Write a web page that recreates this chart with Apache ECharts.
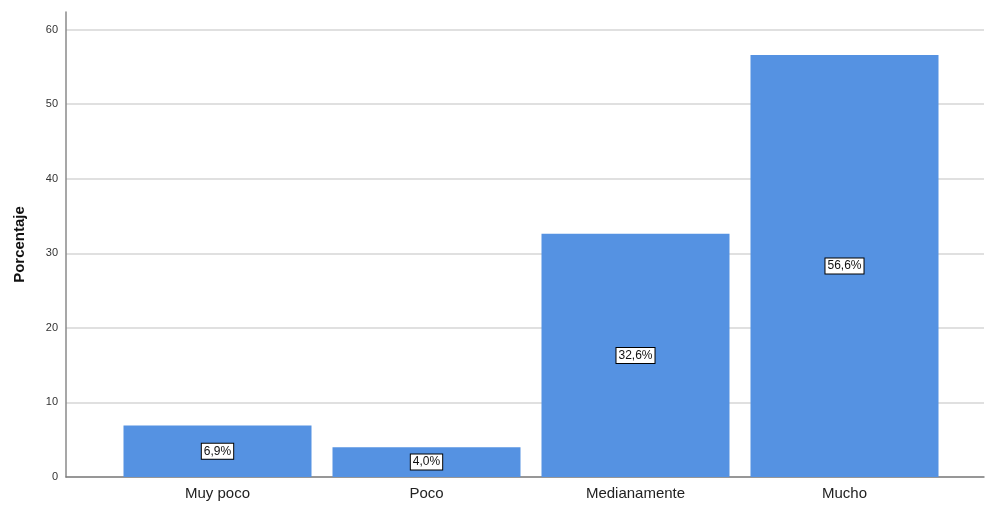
<!DOCTYPE html>
<html>
<head>
<meta charset="utf-8">
<script src="https://cdn.jsdelivr.net/npm/echarts@6/dist/echarts.min.js"></script>
<style>html,body{margin:0;padding:0;background:#fff;}#c{width:985px;height:506px;}</style>
</head>
<body>
<div id="c"></div>
<script>
var categories = ['Muy poco', 'Poco', 'Medianamente', 'Mucho'];
var values = [6.9, 4.0, 32.6, 56.6];
var valueLabels = ['6,9%', '4,0%', '32,6%', '56,6%'];
var yTicks = [0, 10, 20, 30, 40, 50, 60];

var chart = echarts.init(document.getElementById('c'));
var yMax = 62.35;
chart.setOption({
  animation: false,
  grid: [
    {left: 66, right: 1, top: 12, bottom: 29},
    {left: 113, right: 36, top: 12, bottom: 29}
  ],
  xAxis: [
    {gridIndex: 0, type: 'category', data: [''], axisLine: {show: true, lineStyle: {color: '#7f7f7f', width: 1.5}}, axisTick: {show: false}, axisLabel: {show: false}},
    {gridIndex: 1, type: 'category', data: categories, axisLine: {show: false}, axisTick: {show: false},
     axisLabel: {color: '#222', fontSize: 15, fontFamily: 'Liberation Sans, Arial', margin: 9}}
  ],
  yAxis: [
    {gridIndex: 0, type: 'value', min: 0, max: yMax, interval: 10,
     name: 'Porcentaje', nameLocation: 'middle', nameGap: 39, nameRotate: 90,
     nameTextStyle: {fontWeight: 'bold', fontSize: 15, color: '#111', fontFamily: 'Liberation Sans, Arial'},
     axisLine: {show: true, lineStyle: {color: '#8a8a8a', width: 1.5}},
     axisTick: {show: false},
     axisLabel: {color: '#333', fontSize: 11, fontFamily: 'Liberation Sans, Arial', margin: 8, showMaxLabel: false,
       formatter: function (v) { return yTicks.indexOf(v) >= 0 ? String(v) : ''; }},
     splitLine: {show: true, showMaxLine: false, lineStyle: {color: '#d6d6d6', width: 1.5}}
    },
    {gridIndex: 1, type: 'value', min: 0, max: yMax, show: false, splitLine: {show: false}}
  ],
  series: [{
    type: 'bar', xAxisIndex: 1, yAxisIndex: 1,
    data: values, barWidth: 188,
    itemStyle: {color: '#5592e2'},
    label: {show: true, position: 'inside',
      formatter: function (p) { return valueLabels[p.dataIndex]; },
      backgroundColor: '#fff', borderColor: '#000', borderWidth: 1,
      padding: [2, 2, 1, 2], color: '#111', fontSize: 12, fontFamily: 'Liberation Sans, Arial'}
  }]
});
</script>
</body>
</html>
